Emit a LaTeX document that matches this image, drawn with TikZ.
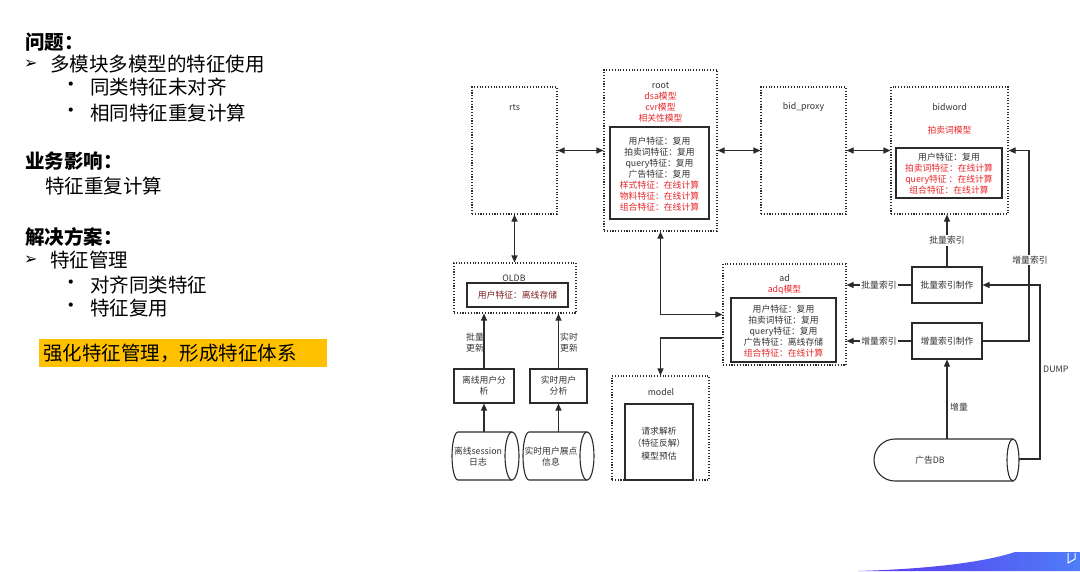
\documentclass[tikz,border=0pt]{standalone}
\usepackage{fontspec}
\setmainfont{Noto Sans CJK SC}
\newfontfamily\symfont{DejaVu Sans}
\usetikzlibrary{arrows.meta,calc}
\definecolor{txtgray}{HTML}{333333}
\definecolor{redtxt}{HTML}{E8262A}
\definecolor{darkred}{HTML}{7A1F1F}
\definecolor{linecol}{HTML}{2B2B2B}
\definecolor{hilite}{HTML}{FFC000}
\definecolor{barA}{HTML}{5A35EE}
\definecolor{barB}{HTML}{4F7DF7}
\begin{document}
\begin{tikzpicture}[x=1pt,y=-1pt,
  dotbox/.style={draw=linecol,line width=1.1pt,dash pattern=on 1.1pt off 1.7pt,inner sep=0pt},
  solidbox/.style={draw=linecol,line width=1.1pt,inner sep=0pt},
  lbl/.style={font=\fontsize{8.8}{11}\selectfont,text=txtgray,align=center,inner sep=0pt},
  rlbl/.style={lbl,text=redtxt},
  onlabel/.style={lbl,fill=white,inner sep=1pt},
  arr/.style={-{Triangle[length=7pt,width=6pt]},line width=1.1pt,draw=linecol},
  darr/.style={{Triangle[length=7pt,width=6pt]}-{Triangle[length=7pt,width=6pt]},line width=1.1pt,draw=linecol},
  big/.style={font=\fontsize{19.5}{22}\selectfont,anchor=west,inner sep=0pt,text=black},
  bigb/.style={big,font=\fontsize{19.5}{22}\selectfont\bfseries},
  arrowmark/.style={font=\symfont\fontsize{16}{18}\selectfont,anchor=west,inner sep=0pt,text=black}
]
\useasboundingbox (0,0) rectangle (1080,571);
\fill[white] (0,0) rectangle (1080,571);

% ---------- left text ----------
\node[bigb] (q) at (25,42) {问题：};
\node[arrowmark] (m1) at (24,64) {➢};
\node[big] (t1) at (50,64) {多模块多模型的特征使用};
\node[big] (b1) at (61,87) {•};
\node[big] (t2) at (90,87) {同类特征未对齐};
\node[big] (b2) at (61,113) {•};
\node[big] (t3) at (90,113) {相同特征重复计算};
\node[bigb] (imp) at (25,161) {业务影响：};
\node[big] (t4) at (45,186) {特征重复计算};
\node[bigb] (sol) at (25,237) {解决方案：};
\node[arrowmark] (m2) at (24,260) {➢};
\node[big] (t5) at (50,260) {特征管理};
\node[big] (b3) at (61,285) {•};
\node[big] (t6) at (90,285) {对齐同类特征};
\node[big] (b4) at (61,308) {•};
\node[big] (t7) at (90,308) {特征复用};
\fill[hilite] (39,339) rectangle (327,367);
\node[big] (hl) at (43,353) {强化特征管理，形成特征体系};

% ---------- boxes ----------
\node[dotbox,minimum width=85pt,minimum height=127pt] (rts) at (514.5,150.5) {};
\node[dotbox,minimum width=113pt,minimum height=161pt] (root) at (660.5,150.5) {};
\node[solidbox,minimum width=99pt,minimum height=92pt] (rootin) at (659.5,173) {};
\node[dotbox,minimum width=85pt,minimum height=127pt] (bidp) at (803.5,150.5) {};
\node[dotbox,minimum width=117pt,minimum height=127pt] (bidword) at (949.5,150.5) {};
\node[solidbox,minimum width=106pt,minimum height=50pt] (bidin) at (949,173) {};
\node[dotbox,minimum width=123pt,minimum height=101pt] (ad) at (784.5,314.5) {};
\node[solidbox,minimum width=105pt,minimum height=64pt] (adin) at (783.5,330) {};
\node[dotbox,minimum width=97pt,minimum height=104pt] (model) at (660.5,428) {};
\node[solidbox,minimum width=68pt,minimum height=76pt] (modelin) at (659,442) {};
\node[dotbox,minimum width=122pt,minimum height=50pt] (oldb) at (515,288) {};
\node[solidbox,minimum width=101pt,minimum height=24pt] (oldbin) at (517.5,295) {};
\node[solidbox,minimum width=60pt,minimum height=34pt] (offl) at (484,386) {};
\node[solidbox,minimum width=57pt,minimum height=34pt] (rtan) at (558.5,386) {};
\node[solidbox,minimum width=70pt,minimum height=36pt] (batch) at (947,285) {};
\node[solidbox,minimum width=70pt,minimum height=36pt] (incr) at (947,341) {};

% cylinders
\draw[solidbox] (512,432) -- (458,432) arc[start angle=270,end angle=90,x radius=6,y radius=24] -- (512,480);
\draw[solidbox,fill=white] (512,456) ellipse[x radius=7,y radius=24];
\draw[solidbox] (587,432) -- (529,432) arc[start angle=270,end angle=90,x radius=6,y radius=24] -- (587,480);
\draw[solidbox,fill=white] (587,456) ellipse[x radius=7,y radius=24];
\draw[solidbox] (1013,439) -- (895,439) arc[start angle=270,end angle=90,radius=21] -- (1013,481);
\draw[solidbox,fill=white] (1013,460) ellipse[x radius=6,y radius=21];
\coordinate (cyl1top) at (484,432);
\coordinate (cyl2top) at (558.5,432);
\coordinate (dbtop) at (947,439);
\coordinate (dbright) at (1019,459);
\coordinate (incx) at (1029,0);
\coordinate (dumpx) at (1040,0);

% ---------- texts ----------
\node[lbl] (rtsT) at (514.5,107) {rts};
\node[lbl] (rootT) at (660.5,85) {root};
\node[rlbl] (rootM) at (660.5,107) {dsa模型\\cvr模型\\相关性模型};
\node[lbl] (rootF) at (659.5,174) {用户特征：复用\\拍卖词特征：复用\\query特征：复用\\广告特征：复用\\
  \textcolor{redtxt}{样式特征：在线计算}\\\textcolor{redtxt}{物料特征：在线计算}\\\textcolor{redtxt}{组合特征：在线计算}};
\node[lbl] (bidpT) at (803.5,107) {bid\_proxy};
\node[lbl] (bidT) at (949.5,107) {bidword};
\node[rlbl] (bidM) at (949.5,130) {拍卖词模型};
\node[lbl] (bidF) at (949,173.5) {用户特征：复用\\\textcolor{redtxt}{拍卖词特征：在线计算}\\
  \textcolor{redtxt}{query特征 ：在线计算}\\\textcolor{redtxt}{组合特征：在线计算}};
\node[lbl] (adT) at (784.5,278) {ad};
\node[rlbl] (adM) at (784.5,289.5) {adq模型};
\node[lbl] (adF) at (783.5,331) {用户特征：复用\\拍卖词特征：复用\\query特征：复用\\广告特征：离线存储\\
  \textcolor{redtxt}{组合特征：在线计算}};
\node[lbl] (modelT) at (661,392) {model};
\node[lbl,font=\fontsize{8.8}{12.5}\selectfont] (modelF) at (659,443.5) {请求解析\\（特征反解）\\模型预估};
\node[lbl] (oldbT) at (514,278) {OLDB};
\node[lbl,text=darkred] (oldbF) at (517.5,295) {用户特征：离线存储};
\node[lbl] (offlT) at (484,386) {离线用户分\\析};
\node[lbl] (rtanT) at (558.5,386) {实时用户\\分析};
\node[lbl] (cyl1T) at (478,456.5) {离线session\\日志};
\node[lbl] (cyl2T) at (551,456.5) {实时用户展点\\信息};
\node[lbl] (dbT) at (930,460) {广告DB};
\node[lbl] (batchT) at (947,285) {批量索引制作};
\node[lbl] (incrT) at (947,341) {增量索引制作};

% ---------- connectors ----------
\draw[darr] (rts.east) -- (root.west);
\draw[darr] (root.east) -- (bidp.west);
\draw[darr] (bidp.east) -- (bidword.west);
\draw[darr] (rts.south) -- (rts.south |- oldb.north);
\draw[arr] (offl.north) -- (offl.north |- oldb.south);
\draw[arr] (rtan.north) -- (rtan.north |- oldb.south);
\draw[arr] (cyl1top) -- (offl.south);
\draw[arr] (cyl2top) -- (rtan.south);
\draw[darr] (ad.west) -| (root.south);
\draw[arr] (ad.west |- 0,338) -| (model.north);
\draw[arr] (batch.west) -- (batch.west -| ad.east) node[onlabel,pos=0.5] (lb1) {批量索引};
\draw[arr] (incr.west) -- (incr.west -| ad.east) node[onlabel,pos=0.5] (lb2) {增量索引};
\draw[arr] (batch.north) -- (batch.north |- bidword.south) node[onlabel,pos=0.5] (lb3) {批量索引};
\draw[arr] (incr.east) -| (incx |- bidword.east) -- (bidword.east);
\node[onlabel] (lb4) at (1030,260) {增量索引};
\draw[arr] (dbtop) -- (incr.south);
\node[lbl,anchor=west] (lb5) at (950,407) {增量};
\draw[arr] (dbright) -| (dumpx |- batch.east) -- (batch.east);
\node[lbl,anchor=west] (lb6) at (1043,369) {DUMP};
\node[lbl] (lb7) at (475,343) {批量\\更新};
\node[lbl] (lb8) at (569,343) {实时\\更新};

% ---------- bottom bar ----------
\shade[left color=barA,right color=barB] (858,571) .. controls (930,569) and (985,562) .. (1015,552) -- (1080,552) -- (1080,571) -- cycle;
\draw[white,line width=1pt] (1068,553) -- (1068,563) -- (1075,559) -- (1075,553);
\end{tikzpicture}
\end{document}
